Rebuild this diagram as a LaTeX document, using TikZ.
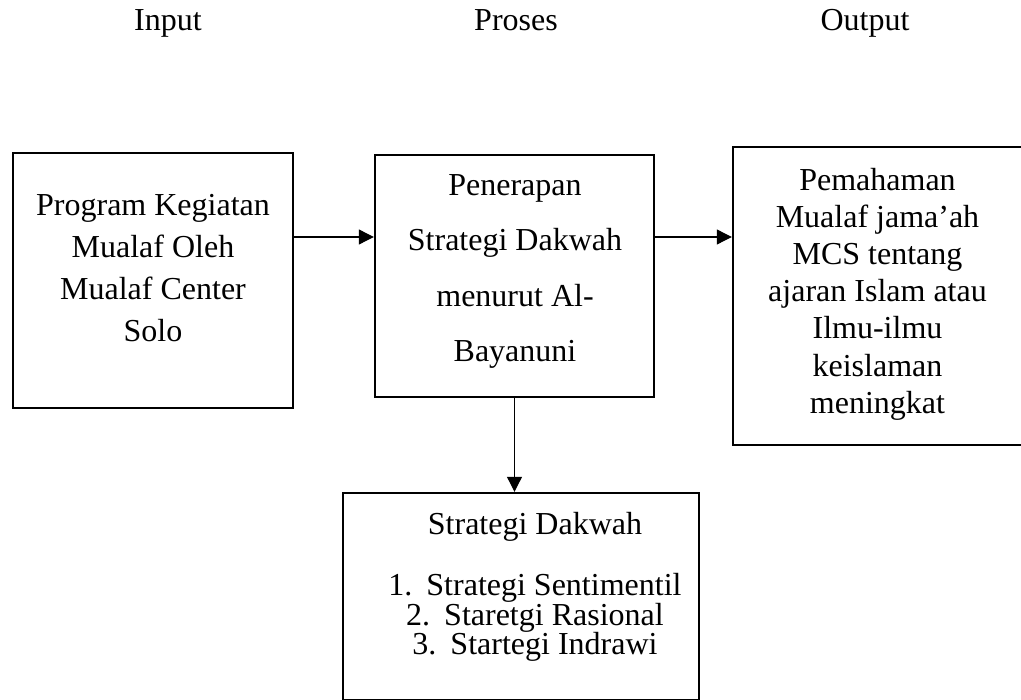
\documentclass[tikz,border=0pt]{standalone}
\usepackage{fontspec}
\setmainfont{Liberation Serif}
\usetikzlibrary{arrows.meta}
\tikzset{
	kotak/.style={draw, line width=2.4pt, inner sep=0pt},
	teks/.style={align=center, inner sep=0pt},
	panah/.style={line width=1.1pt, -{Triangle[length=15pt,width=15pt]}}
}

\begin{document}
\begin{tikzpicture}[x=1pt, y=-1pt]
			%%%%% START %%%%%
			\useasboundingbox (0,0) rectangle (1021,700);
			
			% judul kolom
			\node[teks, anchor=base, font=\fontsize{32}{38}\selectfont] (judulInput) at (168,31) {Input};
			\node[teks, anchor=base, font=\fontsize{32}{38}\selectfont] (judulProses) at (516,31) {Proses};
			\node[teks, anchor=base, font=\fontsize{32}{38}\selectfont] (judulOutput) at (865,31) {Output};
			
			% kotak
			\node[kotak, minimum width=280pt, minimum height=255pt] (input) at (153,280.5) {};
			\node[kotak, minimum width=279pt, minimum height=242pt] (proses) at (514.5,276) {};
			\node[kotak, minimum width=289pt, minimum height=298pt] (output) at (877.5,296) {};
			\node[kotak, minimum width=356pt, minimum height=207pt] (strategi) at (521,596.5) {};
			
			% isi kotak
			\node[teks, font=\fontsize{32}{42}\selectfont] (teksInput) at (153,268) {Program Kegiatan\\Mualaf Oleh\\Mualaf Center\\Solo};
			\node[teks, font=\fontsize{32}{55.5}\selectfont] (teksProses) at (515,271.5) {Penerapan\\Strategi Dakwah\\menurut Al-\\Bayanuni};
			\node[teks, font=\fontsize{32}{37.2}\selectfont] (teksOutput) at (877.5,294) {Pemahaman\\Mualaf jama’ah\\MCS tentang\\ajaran Islam atau\\Ilmu-ilmu\\keislaman\\meningkat};
			\node[teks, font=\fontsize{32}{29.5}\selectfont] (teksStrategi) at (535,587) {Strategi Dakwah\\[32pt]1.\hspace{14pt}Strategi Sentimentil\\2.\hspace{14pt}Staretgi Rasional\\3.\hspace{14pt}Startegi Indrawi};
			
			% panah
			\coordinate (tinggiPanah) at (0,237);
			\draw[panah] (input.east |- tinggiPanah) -- (proses.west |- tinggiPanah);
			\draw[panah] (proses.east |- tinggiPanah) -- (output.west |- tinggiPanah);
			\draw[panah] (proses.south) -- (proses.south |- strategi.north);
			
			%%%%% END %%%%%
\end{tikzpicture}
\end{document}
